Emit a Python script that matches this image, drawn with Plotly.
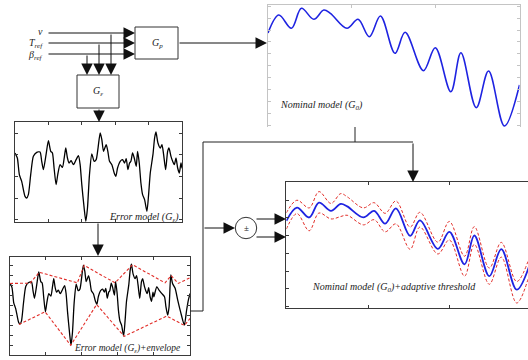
import plotly.graph_objects as go

W, H = 528, 360

# ---------------- data ----------------
# Nominal model G0 (time in % of window, output value)
nom_t = [0, 4.3, 9.3, 13.3, 18.2, 22.2, 24.8, 31.4, 35.8, 40.3, 44.7, 50.5, 54.5,
         61.8, 66.5, 72.7, 76.7, 82.8, 87.7, 94.0, 100]
nom_g = [97, 115, 101.7, 121.7, 110.7, 120, 116.7, 101.7, 110.7, 93.3, 114, 76.7, 97.7,
         59.3, 82.3, 38.3, 77.3, 22.3, 59, 4, 45]
# adaptive threshold half-widths (above / below G0)
thr_up = [11, 10, 13, 15, 10, 14, 13, 13, 11, 14, 10, 12, 11, 9, 14, 11, 12, 11, 9, 11, 11]
thr_lo = [11, 8, 18, 14, 11, 17, 12, 10, 12, 11, 21, 18, 9, 7, 11, 16, 12, 11, 11, 18, 11]

# Error model G_eps (samples, value)
err_t = [0, 7, 13, 20, 30, 35, 40, 47, 55, 65, 75, 80, 85, 93, 100, 107, 112, 117, 123, 128,
         135, 142, 148, 152, 157, 162, 168, 175, 183, 190, 195, 200, 207, 212, 217, 223, 230,
         237, 243, 248, 255, 260, 265, 273, 278, 283, 290, 297, 302, 307, 315, 322, 328, 333,
         338, 343, 347, 352, 357, 363, 367, 372, 377, 382, 388, 395, 400, 405, 413, 418, 422,
         428, 435, 440, 445, 451, 457, 461, 467, 472, 477, 482, 487, 492, 497, 500,
         510, 518, 527, 537, 542, 548, 553, 559, 565, 574, 583, 593, 606, 614, 620, 626]
err_v = [145, 130, 80, 60, 15, 10, 20, 80, 135, 147, 148, 120, 95, 140, 182, 150, 145, 100, 50, 80,
         110, 102, 135, 160, 130, 115, 122, 110, 125, 137, 110, 50, -20, -60, -20, 80, 142,
         120, 125, 155, 205, 185, 150, 170, 150, 120, 110, 85, 75, 100, 120, 125, 115, 128,
         95, 115, 120, 145, 130, 105, 150, 115, 55, 20, 5, -30, 20, 85, 140, 190, 208,
         175, 160, 170, 140, 95, 150, 160, 135, 120, 110, 130, 100, 85, 115, 100,
         133, 122, 111, 100, 67, 39, 67, 172, 144, 128, 89, 50, 6, 56, 89, 111]

# Envelope of the error model
env_up_t = [0, 70, 102, 234, 258, 365, 426, 539, 560, 585, 626]
env_up_v = [144, 145, 181, 146, 204, 146, 206, 146, 170, 144, 163]
env_lo_t = [31, 122, 211, 301, 397, 545, 606, 626]
env_lo_v = [8, 50, -61, 74, -31, 36, 5, 28]

thr_upper = [g + u for g, u in zip(nom_g, thr_up)]
thr_lower = [g - l for g, l in zip(nom_g, thr_lo)]

# ---------------- helpers (pixel -> paper) ----------------
def fx(x):
    return x / W


def fy(y):
    return 1 - y / H


BLUE = "rgb(30,35,225)"
RED = "rgb(225,45,40)"
SERIF = "Liberation Serif"

fig = go.Figure()

# nominal plot
fig.add_trace(go.Scatter(x=nom_t, y=nom_g, mode="lines", xaxis="x", yaxis="y",
                         line=dict(color=BLUE, width=1.6, shape="spline", smoothing=1.0),
                         hoverinfo="skip"))
# error plot
fig.add_trace(go.Scatter(x=err_t, y=err_v, mode="lines", xaxis="x2", yaxis="y2",
                         line=dict(color="black", width=1.3, shape="spline", smoothing=0.6),
                         hoverinfo="skip"))
# envelope plot
fig.add_trace(go.Scatter(x=err_t, y=err_v, mode="lines", xaxis="x3", yaxis="y3",
                         line=dict(color="black", width=1.3, shape="spline", smoothing=0.6),
                         hoverinfo="skip"))
fig.add_trace(go.Scatter(x=env_up_t, y=env_up_v, mode="lines", xaxis="x3", yaxis="y3",
                         line=dict(color=RED, width=1.1, dash="3px,2px"), hoverinfo="skip"))
fig.add_trace(go.Scatter(x=env_lo_t, y=env_lo_v, mode="lines", xaxis="x3", yaxis="y3",
                         line=dict(color=RED, width=1.1, dash="3px,2px"), hoverinfo="skip"))
# adaptive threshold plot
fig.add_trace(go.Scatter(x=nom_t, y=thr_upper, mode="lines", xaxis="x4", yaxis="y4",
                         line=dict(color=RED, width=1, dash="3px,2px", shape="spline",
                                   smoothing=1.0),
                         hoverinfo="skip"))
fig.add_trace(go.Scatter(x=nom_t, y=thr_lower, mode="lines", xaxis="x4", yaxis="y4",
                         line=dict(color=RED, width=1, dash="3px,2px", shape="spline",
                                   smoothing=1.0),
                         hoverinfo="skip"))
fig.add_trace(go.Scatter(x=nom_t, y=nom_g, mode="lines", xaxis="x4", yaxis="y4",
                         line=dict(color=BLUE, width=1.8, shape="spline", smoothing=1.0),
                         hoverinfo="skip"))


def ax_style(color, **kw):
    d = dict(showline=True, linecolor=color, linewidth=1, ticks="inside", ticklen=3,
             tickcolor=color, tickwidth=1, showticklabels=False, showgrid=False,
             zeroline=False, fixedrange=True)
    d.update(kw)
    return d


LIGHT = "#c4c4c4"
DARK = "#3a3a3a"

fig.update_layout(
    width=W, height=H, margin=dict(l=0, r=0, t=0, b=0),
    paper_bgcolor="white", plot_bgcolor="white", showlegend=False,
    xaxis=ax_style(LIGHT, domain=[fx(268), fx(519.5)], range=[0, 100], side="top",
                   anchor="y", mirror=False, dtick=33.33, tick0=0),
    yaxis=ax_style(LIGHT, domain=[fy(127), fy(5)], range=[3, 125], anchor="x",
                   mirror="ticks", dtick=11.9, tick0=4.8),
    xaxis2=ax_style(DARK, domain=[fx(15), fx(182)], range=[0, 500], anchor="y2",
                    mirror="ticks", dtick=100, tick0=0),
    yaxis2=ax_style(DARK, domain=[fy(222), fy(122)], range=[-62, 238], anchor="x2",
                    mirror="ticks", dtick=65, tick0=10),
    xaxis3=ax_style(DARK, domain=[fx(10), fx(190)], range=[0, 625.7], anchor="y3",
                    mirror="ticks", dtick=125, tick0=0),
    yaxis3=ax_style(DARK, domain=[fy(355), fy(256.7)], range=[-93, 232.6], anchor="x3",
                    mirror="ticks", dtick=33, tick0=-60),
    xaxis4=ax_style(DARK, domain=[fx(286.4), 1], range=[0, 98.6], anchor="y4",
                    mirror="ticks", dtick=33.33, tick0=0),
    yaxis4=ax_style(DARK, domain=[fy(308), fy(182)], range=[-20.8, 149.7], anchor="x4",
                    mirror=False, dtick=24, tick0=5),
)

shapes = []
annotations = []


def line(x0, y0, x1, y1):
    shapes.append(dict(type="line", xref="paper", yref="paper", x0=fx(x0), y0=fy(y0),
                       x1=fx(x1), y1=fy(y1), line=dict(color="#222", width=1)))


def arrow(x0, y0, x1, y1):
    annotations.append(dict(x=fx(x1), y=fy(y1), xref="paper", yref="paper",
                            ax=x0 - x1, ay=y0 - y1, axref="pixel", ayref="pixel",
                            text="", showarrow=True, arrowhead=2, arrowsize=2.3,
                            arrowwidth=1, arrowcolor="#111"))


def rect(x0, y0, x1, y1):
    shapes.append(dict(type="rect", xref="paper", yref="paper", x0=fx(x0), y0=fy(y1),
                       x1=fx(x1), y1=fy(y0), line=dict(color="#333", width=1),
                       fillcolor="rgba(0,0,0,0)"))


def label(x, y, text, size=9, xanchor="center", color="#222"):
    annotations.append(dict(x=fx(x), y=fy(y), xref="paper", yref="paper", text=text,
                            showarrow=False, xanchor=xanchor, yanchor="middle",
                            font=dict(family=SERIF, size=size, color=color)))


# inputs
arrow(47, 33, 135, 33)
arrow(47, 43, 135, 43)
arrow(47, 54, 135, 54)
arrow(111, 33, 111, 75)
arrow(99, 43, 99, 75)
arrow(87, 54, 87, 75)
label(45, 31, "<i>v</i>", size=10, xanchor="right")
label(45, 43, "<i>T<sub>ref</sub></i>", size=10, xanchor="right")
label(45, 55, "<i>β<sub>ref</sub></i>", size=10, xanchor="right")

# blocks
rect(135, 27, 178, 59)
label(157, 43, "<i>G<sub>p</sub></i>", size=10)
rect(77, 75, 119, 108)
label(98, 91, "<i>G<sub>ε</sub></i>", size=10)

arrow(178, 43, 267, 43)
arrow(99, 108, 99, 122)
arrow(98, 222, 98, 256)

# feedback routing
line(190, 311, 203, 311)
line(203, 311, 203, 142)
line(203, 142, 413, 142)
line(355, 127, 355, 142)
arrow(413, 142, 413, 182)
arrow(203, 228, 235, 228)

# +/- summing junction
r = 10.7
shapes.append(dict(type="circle", xref="paper", yref="paper", x0=fx(246 - r), x1=fx(246 + r),
                   y0=fy(228 + r), y1=fy(228 - r), line=dict(color="#333", width=1),
                   fillcolor="white"))
label(246, 228, "±", size=9)
arrow(255, 219, 286, 219)
arrow(255, 237, 286, 237)

# plot captions
label(278, 105, "<i>Nominal model (G<sub>0</sub>)</i>", size=10, xanchor="left")
label(181, 218, "<i>Error model (G<sub>ε</sub>)</i>", size=10, xanchor="right")
label(182, 348, "<i>Error model (G<sub>ε</sub>)+envelope</i>", size=9.5, xanchor="right")
label(310, 287, "<i>Nominal model (G<sub>0</sub>)+adaptive threshold</i>", size=10,
      xanchor="left")

fig.update_layout(shapes=shapes, annotations=annotations)
fig.write_html("out.html", config={"displayModeBar": False},
               post_script="document.body.style.margin='0';document.body.style.padding='0';")
